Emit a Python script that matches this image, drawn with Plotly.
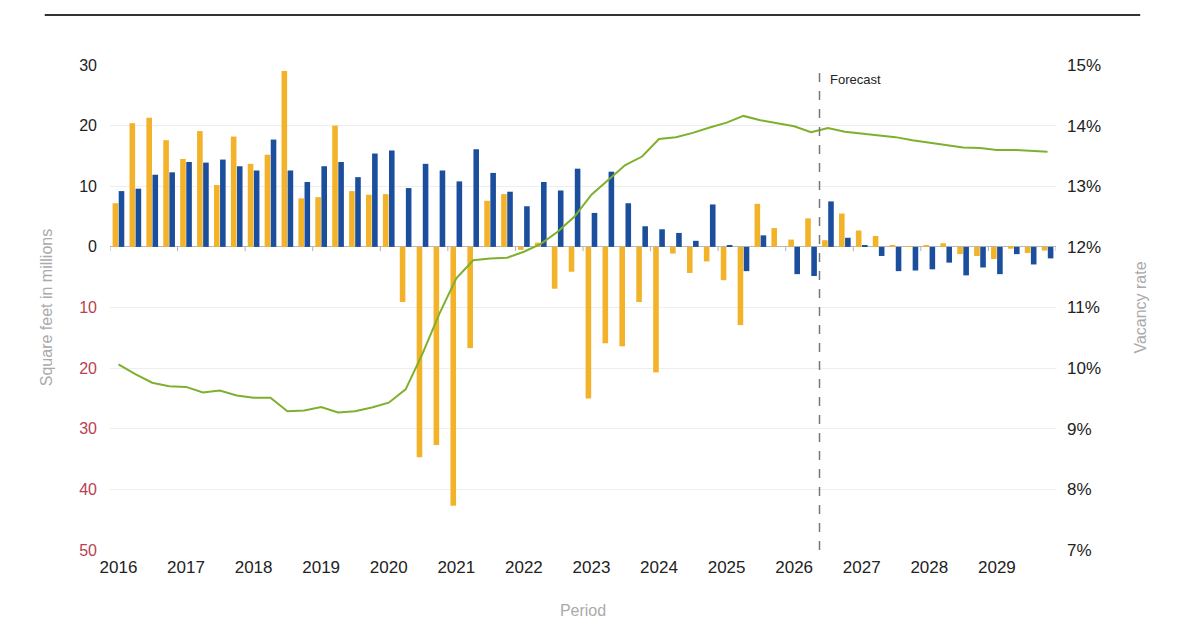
import plotly.graph_objects as go

# Quarterly periods 2016 Q1 .. 2029 Q4
years = list(range(2016, 2030))
quarters = [f"{y} Q{q}" for y in years for q in range(1, 5)]
forecast_start = "2026 Q3"

# Square feet in millions (orange = absorption, blue = deliveries)
absorption = [
    7.2, 20.4, 21.3, 17.6, 14.5, 19.1, 10.2, 18.2,
    13.7, 15.2, 29.0, 8.0, 8.2, 20.0, 9.2, 8.6,
    8.7, -9.1, -34.7, -32.7, -42.7, -16.7, 7.6, 8.7,
    -0.5, 0.7, -6.9, -4.1, -25.0, -15.9, -16.4, -9.1,
    -20.7, -1.1, -4.3, -2.4, -5.5, -12.9, 7.1, 3.1,
    1.2, 4.7, 1.1, 5.5, 2.7, 1.8, 0.2, 0.1,
    0.2, 0.6, -1.2, -1.5, -2.0, -0.3, -1.0, -0.6,
]
deliveries = [
    9.2, 9.6, 11.9, 12.3, 14.0, 13.9, 14.4, 13.3,
    12.6, 17.7, 12.6, 10.7, 13.3, 14.0, 11.5, 15.4,
    15.9, 9.7, 13.7, 12.6, 10.8, 16.1, 12.2, 9.1,
    6.7, 10.7, 9.3, 12.9, 5.6, 12.4, 7.2, 3.4,
    2.9, 2.3, 1.0, 7.0, 0.3, -4.0, 1.9, 0.0,
    -4.5, -4.8, 7.5, 1.5, 0.3, -1.5, -4.0, -3.9,
    -3.7, -2.6, -4.7, -3.4, -4.5, -1.2, -2.9, -1.9,
]
# Vacancy rate, percent
vacancy = [
    10.06, 9.90, 9.76, 9.70, 9.69, 9.60, 9.63, 9.55,
    9.51, 9.51, 9.29, 9.30, 9.36, 9.27, 9.29, 9.35,
    9.43, 9.65, 10.24, 10.90, 11.48, 11.78, 11.81, 11.82,
    11.92, 12.05, 12.25, 12.50, 12.86, 13.11, 13.35, 13.49,
    13.78, 13.81, 13.88, 13.97, 14.05, 14.16, 14.09, 14.04,
    13.99, 13.89, 13.96, 13.90, 13.87, 13.84, 13.81, 13.76,
    13.72, 13.68, 13.64, 13.63, 13.60, 13.60, 13.59, 13.57,
]

left_ticks = [-50, -40, -30, -20, -10, 0, 10, 20, 30]
right_ticks = [7, 8, 9, 10, 11, 12, 13, 14, 15]

ORANGE = "#F2B229"
BLUE = "#1B4E9C"
GREEN = "#7EB02E"
NEG_RED = "#B8414F"
FONT = "Liberation Sans, Arial, sans-serif"

fig = go.Figure()

fig.add_trace(go.Bar(x=quarters, y=absorption, name="Absorption",
                     marker=dict(color=ORANGE, line=dict(width=0))))
fig.add_trace(go.Bar(x=quarters, y=deliveries, name="Deliveries",
                     marker=dict(color=BLUE, line=dict(width=0))))
fig.add_trace(go.Scatter(x=quarters, y=vacancy, name="Vacancy rate", yaxis="y2",
                         mode="lines", line=dict(color=GREEN, width=2)))

# Negative values shown as positive numbers in red
left_text = []
for v in left_ticks:
    if v < 0:
        left_text.append(f'<span style="color:{NEG_RED}">{abs(v)}</span>')
    else:
        left_text.append(str(v))
right_text = [f"{v}%" for v in right_ticks]

# Small tick marks along the zero line at year boundaries
shapes = []
for i in range(0, len(quarters) + 1, 4):
    shapes.append(dict(type="line", xref="x", yref="y", x0=i - 0.5, x1=i - 0.5,
                       y0=0, y1=-0.7, line=dict(color="#b0b0b0", width=1)))

# Forecast divider
fc = quarters.index(forecast_start) - 0.5
shapes.append(dict(type="line", xref="x", yref="paper", x0=fc, x1=fc, y0=0, y1=1,
                   line=dict(color="#777777", width=1.5, dash="dash")))

# Rule above the chart
shapes.append(dict(type="line", xref="paper", yref="paper", x0=-0.069, x1=1.089,
                   y0=1.103, y1=1.103, line=dict(color="#333333", width=2)))

fig.update_layout(
    width=1200,
    height=629,
    margin=dict(l=102, r=152, t=57, b=87),
    paper_bgcolor="white",
    plot_bgcolor="white",
    barmode="group",
    bargap=0.28,
    bargroupgap=0.08,
    showlegend=False,
    font=dict(family=FONT, size=16, color="#222222"),
    shapes=shapes,
    annotations=[
        dict(x=fc, y=1.0, xref="x", yref="paper", text="Forecast", showarrow=False,
             xanchor="left", yanchor="top", xshift=8, yshift=-5,
             font=dict(family=FONT, size=13, color="#222222")),
    ],
    xaxis=dict(
        type="category",
        range=[-0.5, len(quarters) - 0.5],
        tickvals=[f"{y} Q1" for y in years],
        ticktext=[str(y) for y in years],
        showgrid=False,
        showline=False,
        ticks="",
        ticklabelstandoff=5,
        tickfont=dict(size=17, color="#222222"),
        title=dict(text="Period", font=dict(size=16, color="#aaaaaa"), standoff=28),
    ),
    yaxis=dict(
        range=[-50, 30],
        tickvals=left_ticks,
        ticktext=left_text,
        tickfont=dict(size=16, color="#222222"),
        showgrid=True,
        gridcolor="#eeeeee",
        zeroline=True,
        zerolinecolor="#b8b8b8",
        zerolinewidth=1,
        showline=False,
        ticks="",
        ticklabelstandoff=12,
        title=dict(text="Square feet in millions", font=dict(size=16, color="#aaaaaa"),
                   standoff=22),
    ),
    yaxis2=dict(
        overlaying="y",
        side="right",
        range=[7, 15],
        tickvals=right_ticks,
        ticktext=right_text,
        tickfont=dict(size=17, color="#222222"),
        showgrid=False,
        zeroline=False,
        showline=False,
        ticks="",
        ticklabelstandoff=10,
        title=dict(text="Vacancy rate", font=dict(size=16, color="#aaaaaa"), standoff=34),
    ),
)

fig.write_html("out.html")
